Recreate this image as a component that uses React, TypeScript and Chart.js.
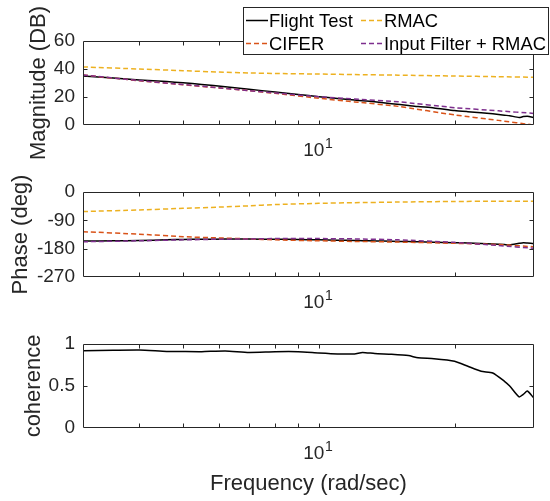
import React, { useEffect, useRef } from 'react';
import { Chart, registerables } from 'chart.js';

Chart.register(...registerables);

const FONT_FAMILY = '"Liberation Sans", Arial, Helvetica, sans-serif';
const AXIS_COLOR = '#262626';

const seriesNames = ['Flight Test', 'CIFER', 'RMAC', 'Input Filter + RMAC'];
const seriesColors = ['#000000', '#D95319', '#EDB120', '#7E2F8E'];

// Flight test frequency response (rad/sec)
const freqTest = [3, 3.5, 4, 4.6, 5, 5.5, 6.2, 7, 8, 9, 10, 11, 12, 12.5, 13.3, 14.5, 15.8, 16.6, 18, 20, 21.4, 22.9, 24.3, 25.8, 26.5, 27.8, 28.4, 29, 30];
const magTest = [35, 33.6, 32.2, 31, 30.2, 29, 27.3, 25.5, 23.6, 21.8, 20.2, 19, 17.8, 17.3, 16.6, 15.2, 14, 13.2, 12.2, 10.3, 9.5, 8.8, 8, 7, 6.6, 5.4, 6, 6.3, 5.2];
const phaseTest = [-155.6, -155, -154, -152, -150.5, -150, -149.5, -149.5, -150, -151, -152, -153, -154, -154.5, -155.5, -156.5, -157.5, -158, -159.5, -161, -162, -163.5, -165, -167, -168, -163, -161, -162, -164];
const cohTest = [0.921, 0.926, 0.929, 0.912, 0.91, 0.909, 0.917, 0.9, 0.908, 0.908, 0.893, 0.882, 0.882, 0.9, 0.886, 0.877, 0.862, 0.835, 0.825, 0.795, 0.735, 0.675, 0.655, 0.556, 0.5, 0.37, 0.4, 0.44, 0.353];

// Model responses
const freqModel = [3, 4, 5, 6, 7, 8, 10, 12, 15, 20, 25, 30];
const magCifer = [35.7, 31.6, 28.8, 26.5, 24.5, 22.6, 19.1, 16.5, 13.3, 7.2, 3.3, 0];
const magRmac = [41.5, 40, 38.8, 37.8, 37.2, 36.8, 36.4, 36, 35.6, 35, 34.5, 34.1];
const magFilter = [35.8, 31.7, 28.9, 26.6, 24.6, 22.9, 20.2, 18.6, 16.6, 12.4, 10.1, 8.3];
const phaseCifer = [-126, -134, -142, -146, -149, -152, -155, -157, -159, -163, -167, -174];
const phaseRmac = [-62, -57, -52, -48, -44, -40, -36, -34, -32, -30, -29.5, -29];
const phaseFilter = [-158, -155, -152, -150, -149, -148, -148, -149, -152, -160, -170, -179];

// Ticks
const freqTicks = [3, 4, 5, 6, 7, 8, 9, 10, 20, 30];
const freqTickBase: Record<number, string> = { 10: '10' };
const freqTickExp: Record<number, string> = { 10: '1' };
const magTicks = [0, 20, 40, 60];
const phaseTicks = [-270, -180, -90, 0];
const cohTicks = [0, 0.5, 1];

const TICK_SIZE = 19;
const X_LABEL_PAD = 14;
const X_LABEL_SHIFT = -5;

const pts = (xs: number[], ys: number[]) => xs.map((x, i) => ({ x, y: ys[i] }));

const ds = (idx: number, xs: number[], ys: number[]) => ({
  label: seriesNames[idx],
  data: pts(xs, ys),
  borderColor: seriesColors[idx],
  backgroundColor: seriesColors[idx],
  borderWidth: 1.5,
  borderDash: idx === 0 ? [] : [5, 3],
  pointRadius: 0,
  tension: 0.2,
  fill: false,
});

const boxPlugin = {
  id: 'matlabBox',
  afterDatasetsDraw(chart: any) {
    const { ctx, chartArea, scales } = chart;
    const { left, right, top, bottom } = chartArea;
    const L = Math.round(left) + 0.5;
    const R = Math.round(right) - 0.5;
    const T = Math.round(top) + 0.5;
    const B = Math.round(bottom) - 0.5;
    const tl = 4;
    ctx.save();
    ctx.strokeStyle = AXIS_COLOR;
    ctx.lineWidth = 1;
    ctx.setLineDash([]);
    ctx.beginPath();
    ctx.rect(L, T, R - L, B - T);
    scales.x.ticks.forEach((t: any) => {
      const px = Math.round(scales.x.getPixelForValue(t.value)) + 0.5;
      if (px <= L + 1 || px >= R - 1) return;
      ctx.moveTo(px, B);
      ctx.lineTo(px, B - tl);
      ctx.moveTo(px, T);
      ctx.lineTo(px, T + tl);
    });
    scales.y.ticks.forEach((t: any) => {
      const py = Math.round(scales.y.getPixelForValue(t.value)) + 0.5;
      if (py <= T + 1 || py >= B - 1) return;
      ctx.moveTo(L, py);
      ctx.lineTo(L + tl, py);
      ctx.moveTo(R, py);
      ctx.lineTo(R - tl, py);
    });
    ctx.stroke();

    // superscript exponents of the decade tick labels
    const xs = scales.x;
    ctx.fillStyle = AXIS_COLOR;
    ctx.textAlign = 'left';
    ctx.textBaseline = 'top';
    xs.ticks.forEach((t: any) => {
      const exp = freqTickExp[t.value];
      const base = freqTickBase[t.value];
      if (!exp || !base) return;
      ctx.font = `${TICK_SIZE}px ${FONT_FAMILY}`;
      const w = ctx.measureText(base).width;
      const cx = xs.getPixelForValue(t.value) + X_LABEL_SHIFT;
      ctx.font = `14px ${FONT_FAMILY}`;
      ctx.fillText(exp, cx + w / 2 + 0.5, xs.top + X_LABEL_PAD - 1.5);
    });
    ctx.restore();
  },
};

const legendPlugin = {
  id: 'matlabLegend',
  afterDraw(chart: any) {
    const ctx = chart.ctx;
    ctx.save();
    ctx.fillStyle = '#ffffff';
    ctx.fillRect(243.5, 7.5, 305, 47);
    ctx.strokeStyle = AXIS_COLOR;
    ctx.lineWidth = 1;
    ctx.setLineDash([]);
    ctx.strokeRect(243.5, 7.5, 305, 47);
    const cols = [246, 361];
    const rows = [20.5, 43.5];
    const layout = [
      [0, 0, 0],
      [1, 0, 1],
      [2, 1, 0],
      [3, 1, 1],
    ];
    ctx.font = `18.4px ${FONT_FAMILY}`;
    ctx.textBaseline = 'middle';
    ctx.textAlign = 'left';
    layout.forEach(([idx, c, r]) => {
      const x = cols[c];
      const y = rows[r];
      ctx.beginPath();
      ctx.strokeStyle = seriesColors[idx];
      ctx.lineWidth = 1.5;
      ctx.setLineDash(idx === 0 ? [] : [5, 3]);
      ctx.moveTo(x, y);
      ctx.lineTo(x + 22, y);
      ctx.stroke();
      ctx.setLineDash([]);
      ctx.fillStyle = '#000000';
      ctx.fillText(seriesNames[idx], x + 23, y + 1);
    });
    ctx.restore();
  },
};

const W = 550;
const H = 501;

function makeConfig(opts: {
  datasets: any[];
  yTicks: number[];
  yTitle: string;
  yTitlePad: number;
  top: number;
  bottom: number;
  xTitle?: string;
  plugins: any[];
}) {
  const { datasets, yTicks, yTitle, yTitlePad, top, bottom, xTitle, plugins } = opts;
  return {
    type: 'line' as const,
    data: { datasets },
    plugins,
    options: {
      animation: false,
      responsive: false,
      devicePixelRatio: 1,
      events: [],
      layout: { padding: { top, left: 0, right: W - 534, bottom: 0 } },
      plugins: { legend: { display: false }, tooltip: { enabled: false } },
      scales: {
        x: {
          type: 'logarithmic',
          min: freqTicks[0],
          max: freqTicks[freqTicks.length - 1],
          afterBuildTicks: (s: any) => {
            s.ticks = freqTicks.map((v) => ({ value: v }));
          },
          afterFit: (s: any) => {
            s.height = H - bottom;
          },
          grid: { display: false, drawTicks: false },
          border: { display: false },
          ticks: {
            autoSkip: false,
            maxRotation: 0,
            minRotation: 0,
            padding: X_LABEL_PAD,
            labelOffset: X_LABEL_SHIFT,
            color: AXIS_COLOR,
            font: { family: FONT_FAMILY, size: TICK_SIZE },
            callback: (v: any) => freqTickBase[Number(v)] ?? '',
          },
          title: {
            display: !!xTitle,
            text: xTitle ?? '',
            color: AXIS_COLOR,
            font: { family: FONT_FAMILY, size: 22, lineHeight: 1.2 },
            padding: { top: 0, bottom: 4 },
          },
        },
        y: {
          type: 'linear',
          min: yTicks[0],
          max: yTicks[yTicks.length - 1],
          afterBuildTicks: (s: any) => {
            s.ticks = yTicks.map((v) => ({ value: v }));
          },
          afterFit: (s: any) => {
            s.width = 83;
          },
          grid: { display: false, drawTicks: false },
          border: { display: false },
          ticks: {
            padding: 8,
            color: AXIS_COLOR,
            font: { family: FONT_FAMILY, size: TICK_SIZE },
            callback: (v: any) => String(v),
          },
          title: {
            display: true,
            text: yTitle,
            color: AXIS_COLOR,
            font: { family: FONT_FAMILY, size: 22, lineHeight: 1.2 },
            padding: { top: yTitlePad, bottom: 0 },
          },
        },
      },
    },
  };
}

export default function App() {
  const magRef = useRef<HTMLCanvasElement>(null);
  const phaseRef = useRef<HTMLCanvasElement>(null);
  const cohRef = useRef<HTMLCanvasElement>(null);

  useEffect(() => {
    const charts: Chart[] = [];
    charts.push(
      new Chart(
        magRef.current!,
        makeConfig({
          datasets: [
            ds(3, freqModel, magFilter),
            ds(2, freqModel, magRmac),
            ds(1, freqModel, magCifer),
            ds(0, freqTest, magTest),
          ],
          yTicks: magTicks,
          yTitle: 'Magnitude (DB)',
          yTitlePad: 26,
          top: 41,
          bottom: 125,
          plugins: [boxPlugin, legendPlugin],
        }) as any
      )
    );
    charts.push(
      new Chart(
        phaseRef.current!,
        makeConfig({
          datasets: [
            ds(3, freqModel, phaseFilter),
            ds(2, freqModel, phaseRmac),
            ds(1, freqModel, phaseCifer),
            ds(0, freqTest, phaseTest),
          ],
          yTicks: phaseTicks,
          yTitle: 'Phase (deg)',
          yTitlePad: 8,
          top: 192,
          bottom: 277,
          plugins: [boxPlugin],
        }) as any
      )
    );
    charts.push(
      new Chart(
        cohRef.current!,
        makeConfig({
          datasets: [ds(0, freqTest, cohTest)],
          yTicks: cohTicks,
          yTitle: 'coherence',
          yTitlePad: 21,
          top: 344,
          bottom: 428,
          xTitle: 'Frequency (rad/sec)',
          plugins: [boxPlugin],
        }) as any
      )
    );
    return () => charts.forEach((c) => c.destroy());
  }, []);

  const canvasStyle: React.CSSProperties = { position: 'absolute', left: 0, top: 0 };
  return (
    <div style={{ position: 'absolute', left: 0, top: 0, width: W, height: H, background: '#ffffff' }}>
      <canvas ref={cohRef} width={W} height={H} style={canvasStyle} />
      <canvas ref={phaseRef} width={W} height={H} style={canvasStyle} />
      <canvas ref={magRef} width={W} height={H} style={canvasStyle} />
    </div>
  );
}
